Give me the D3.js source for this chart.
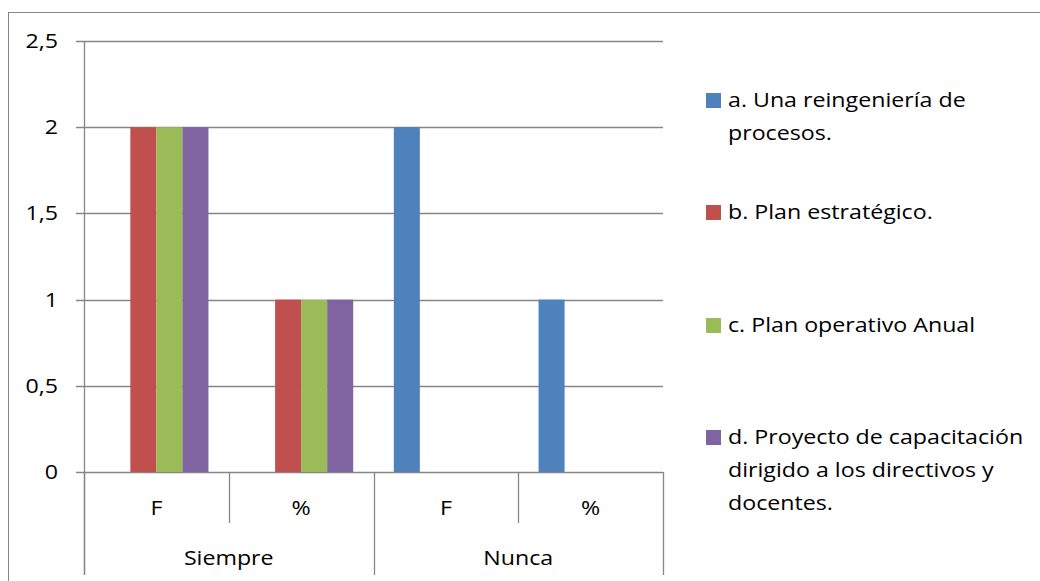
<!DOCTYPE html>
<html>
<head>
<meta charset="utf-8">
<script src="https://cdn.jsdelivr.net/npm/d3@7"></script>
<style>
  html, body { margin: 0; padding: 0; background: #fff; }
  svg { display: block; }
  text { font-family: "Open Sans", sans-serif; fill: #000; }
</style>
</head>
<body>
<svg id="chart" width="1040" height="581"></svg>
<script>
// Categories: sub-level (F / %) under each top-level group
const categories = ["F", "%", "F", "%"];
const groups = ["Siempre", "Nunca"];
const seriesNames = [
  "a. Una reingeniería de procesos.",
  "b. Plan estratégico.",
  "c. Plan operativo Anual",
  "d. Proyecto de capacitación dirigido a los directivos y docentes."
];
// Legend text, wrapped as shown
const legendLines = [
  ["a. Una reingeniería de", "procesos."],
  ["b. Plan estratégico."],
  ["c. Plan operativo Anual"],
  ["d. Proyecto de capacitación", "dirigido a los directivos y", "docentes."]
];
const seriesA = [0, 0, 2, 1];
const seriesB = [2, 1, 0, 0];
const seriesC = [2, 1, 0, 0];
const seriesD = [2, 1, 0, 0];
const yTicks = [0, 0.5, 1, 1.5, 2, 2.5];
const colors = ["#4F81BD", "#C0504D", "#9BBB59", "#8064A2"];

const allSeries = [seriesA, seriesB, seriesC, seriesD];

const svg = d3.select("#chart");
const plotLeft = 84, plotRight = 663, plotTop = 41, plotBottom = 472;
const gridColor = "#868686";
const fontSize = 20;
const stretchX = 1.16;   // the chart is drawn slightly wide, text included

// Place a label at (x, y) with the horizontal stretch applied
function placeText(sel, x, y) {
  return sel.attr("x", 0).attr("y", 0)
    .attr("transform", (d, i) => {
      const px = typeof x === "function" ? x(d, i) : x;
      const py = typeof y === "function" ? y(d, i) : y;
      return `translate(${px},${py}) scale(${stretchX},1)`;
    });
}

// Outer chart frame (runs past the right and bottom edges)
svg.append("rect")
  .attr("x", 8.5).attr("y", 12.5)
  .attr("width", 1100).attr("height", 700)
  .attr("fill", "none").attr("stroke", gridColor).attr("stroke-width", 1);

const y = d3.scaleLinear().domain([0, 2.5]).range([plotBottom, plotTop]);
const catIdx = categories.map((_, i) => i);
const x0 = d3.scaleBand().domain(catIdx).range([plotLeft, plotRight]).padding(0);
const x1 = d3.scaleBand().domain(d3.range(allSeries.length))
  .range([0, x0.bandwidth()]).paddingInner(0).paddingOuter(0.78);

// Horizontal gridlines and y ticks
svg.append("g").selectAll("line").data(yTicks).join("line")
  .attr("x1", plotLeft - 8).attr("x2", plotRight)
  .attr("y1", d => Math.round(y(d)) + 0.5).attr("y2", d => Math.round(y(d)) + 0.5)
  .attr("stroke", gridColor).attr("stroke-width", 1.3);

placeText(
  svg.append("g").selectAll("text").data(yTicks).join("text"),
  58, d => y(d))
  .attr("dy", "0.35em")
  .attr("text-anchor", "end")
  .attr("font-size", fontSize)
  .text(d => String(d).replace(".", ","));

// Bars
const barG = svg.append("g");
allSeries.forEach((vals, s) => {
  barG.append("g").selectAll("rect").data(vals).join("rect")
    .attr("x", (d, i) => x0(i) + x1(s))
    .attr("width", x1.bandwidth())
    .attr("y", d => y(d))
    .attr("height", d => y(0) - y(d))
    .attr("fill", colors[s]);
});

// Y axis line
svg.append("line")
  .attr("x1", plotLeft + 0.5).attr("x2", plotLeft + 0.5)
  .attr("y1", plotTop).attr("y2", 575)
  .attr("stroke", gridColor).attr("stroke-width", 1.3);

// Category axis separators
const boundaries = d3.range(categories.length + 1).map(i => plotLeft + i * x0.step());
boundaries.forEach((bx, i) => {
  const major = i % 2 === 0;
  svg.append("line")
    .attr("x1", Math.round(bx) + 0.5).attr("x2", Math.round(bx) + 0.5)
    .attr("y1", plotBottom).attr("y2", major ? 575 : 523)
    .attr("stroke", gridColor).attr("stroke-width", 1.3);
});

// Category labels
placeText(
  svg.append("g").selectAll("text").data(categories).join("text"),
  (d, i) => x0(i) + x0.bandwidth() / 2, 508)
  .attr("dy", "0.35em")
  .attr("text-anchor", "middle").attr("font-size", fontSize)
  .text(d => d);

placeText(
  svg.append("g").selectAll("text").data(groups).join("text"),
  (d, i) => plotLeft + (i * 2 + 1) * x0.step(), 558)
  .attr("dy", "0.35em")
  .attr("text-anchor", "middle").attr("font-size", fontSize)
  .text(d => d);

// Legend
const legendY = [100, 212, 325, 437];
const lg = svg.append("g");
legendLines.forEach((lines, s) => {
  lg.append("rect")
    .attr("x", 706).attr("y", legendY[s] - 7)
    .attr("width", 15).attr("height", 15)
    .attr("fill", colors[s]);
  placeText(
    lg.append("g").selectAll("text").data(lines).join("text"),
    728, (d, k) => legendY[s] + k * 33)
    .attr("dy", "0.35em").attr("font-size", fontSize)
    .text(d => d);
});
</script>
</body>
</html>
